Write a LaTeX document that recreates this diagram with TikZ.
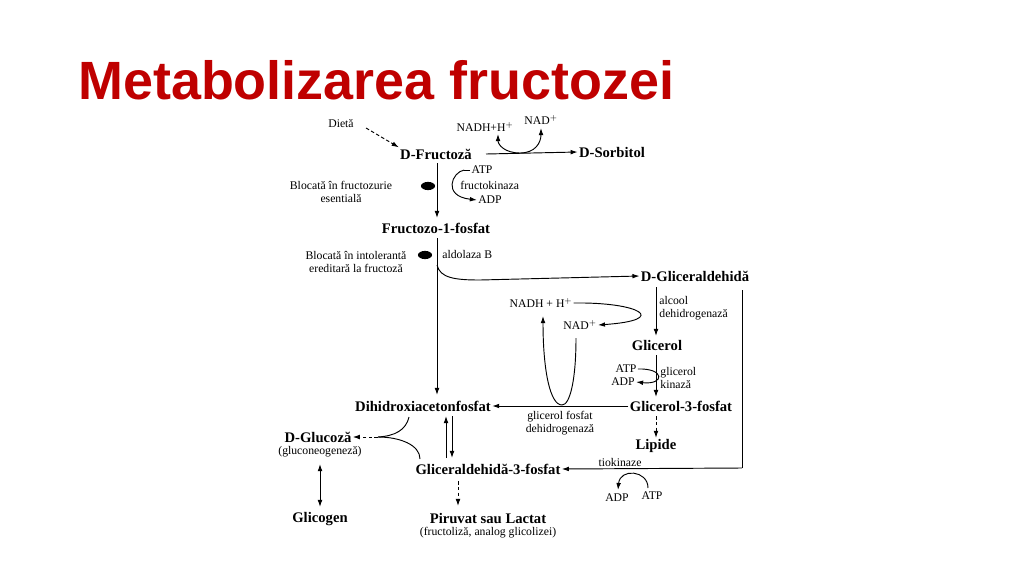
\documentclass[tikz,border=0pt]{standalone}
\usepackage{fontspec}
\setmainfont{Liberation Serif}
\newfontfamily\titlefont{Liberation Sans}
\usetikzlibrary{arrows.meta,shapes.geometric}
\begin{document}
\begin{tikzpicture}[x=0.03cm,y=-0.03cm,
  big/.style={font=\bfseries\fontsize{12.5}{13}\selectfont,inner sep=1pt},
  sm/.style={font=\fontsize{10}{11.5}\selectfont,inner sep=1pt},
  ln/.style={line width=0.8pt},
  ar/.style={ln,-{Latex[length=6pt,width=4pt]}},
  dar/.style={ar,densely dashed},
  blob/.style={ellipse,fill=black,minimum width=12pt,minimum height=7pt,inner sep=0pt}]
\useasboundingbox (0,0) rectangle (1024,574);
\node[anchor=west,inner sep=0pt,text=red!75!black,font=\titlefont\bfseries\fontsize{46}{48}\selectfont] (title) at (78,80) {Metabolizarea fructozei};
% nodes
\node[sm] (diet) at (341,124) {Dietă};
\node[big] (fru) at (436,154) {D-Fructoză};
\node[big] (sor) at (612,152) {D-Sorbitol};
\node[sm] (nadh1) at (485,127) {NADH+H$^{+}$};
\node[sm] (nad1) at (541,120) {NAD$^{+}$};
\node[sm] (atp1) at (482,170) {ATP};
\node[sm,anchor=west] (fk) at (459,185) {fructokinaza};
\node[sm] (adp1) at (490,200) {ADP};
\node[sm,align=center] (bl1) at (341,192) {Blocată în fructozurie\\esentială};
\node[blob] (e1) at (428,186) {};
\node[big] (f1p) at (436,228) {Fructozo-1-fosfat};
\node[sm,align=center] (bl2) at (356,262) {Blocată în intolerantă\\ereditară la fructoză};
\node[blob] (e2) at (425,255) {};
\node[sm,anchor=west] (ald) at (441,254) {aldolaza B};
\node[big] (gald) at (695,276) {D-Gliceraldehidă};
\node[sm] (nadh2) at (541,303) {NADH + H$^{+}$};
\node[sm] (nad2) at (580,325) {NAD$^{+}$};
\node[sm,anchor=west,align=left] (adh) at (658,308) {alcool\\dehidrogenază};
\node[big] (glic) at (657,345) {Glicerol};
\node[sm] (atp2) at (626,369) {ATP};
\node[sm] (adp2) at (623,382) {ADP};
\node[sm,anchor=west,align=left] (gk) at (659,378) {glicerol\\kinază};
\node[big] (g3p) at (681,406) {Glicerol-3-fosfat};
\node[big] (dhap) at (423,406) {Dihidroxiacetonfosfat};
\node[sm,align=center] (gpd) at (560,423) {glicerol fosfat\\dehidrogenază};
\node[big] (lip) at (656,446) {Lipide};
\node[big] (glu) at (318,437) {D-Glucoză};
\node[sm] (gng) at (320,452) {(gluconeogeneză)};
\node[big] (ga3p) at (488,469) {Gliceraldehidă-3-fosfat};
\node[sm] (tio) at (620,462) {tiokinaze};
\node[sm] (adp3) at (617,498) {ADP};
\node[sm] (atp3) at (652,496) {ATP};
\node[big] (glyc) at (320,519) {Glicogen};
\node[big] (pir) at (488,518) {Piruvat sau Lactat};
\node[sm] (fl) at (488,533) {(fructoliză, analog glicolizei)};
% connectors
\draw[dar] (366,128) -- (fru.north west);
\draw[ar] (486,154) -- (sor.west);
\draw[ar] (520,153) .. controls (505,153) and (498,145) .. (498,134);
\draw[ar] (520,153) .. controls (535,153) and (541,143) .. (541,128);
\draw[ar] (437,163) -- (437,218);
\draw[ln] (atp1.west) -- ++(-6,0) coordinate (c1);
\draw[ar] (c1) .. controls (452,172) and (442,196) .. (adp1.west);
\draw[ln] (437,238) -- (437,265);
\draw[ar] (437,265) .. controls (440,278) and (455,280) .. (480,280) -- (gald.west);
\draw[ar] (437,265) -- (437,395);
\draw[ar] (656,287) -- (656,336);
\draw[ar] (nadh2.east) .. controls (640,302) and (670,320) .. (nad2.east);
\draw[ar] (656,355) -- (656,397);
\draw[ar] (atp2.east) .. controls (665,368) and (665,385) .. (adp2.east);
\draw[ar] (g3p.west) -- (dhap.east);
\draw[ar] (576,338) .. controls (576,380) and (570,405) .. (562,405) .. controls (550,405) and (543,370) .. (543,316);
\draw[dar] (656,416) -- (lip.north);
\draw[ln] (742,290) -- (742,468);
\draw[ar] (742,468) -- (ga3p.east);
\draw[ar] (648,488) .. controls (648,470) and (620,468) .. (618,490);
\draw[ar] (446,458) -- (446,416);
\draw[ar] (452,416) -- (452,458);
\draw[ln] (409,417) .. controls (406,430) and (395,436) .. (378,437);
\draw[ln] (420,459) .. controls (420,445) and (400,437) .. (378,437);
\draw[dar] (378,437) -- (glu.east);
\draw[{Latex[length=6pt,width=4pt]}-{Latex[length=6pt,width=4pt]},ln] (320,464) -- (320,507);
\draw[dar] (458,481) -- (458,506);
\end{tikzpicture}
\end{document}
